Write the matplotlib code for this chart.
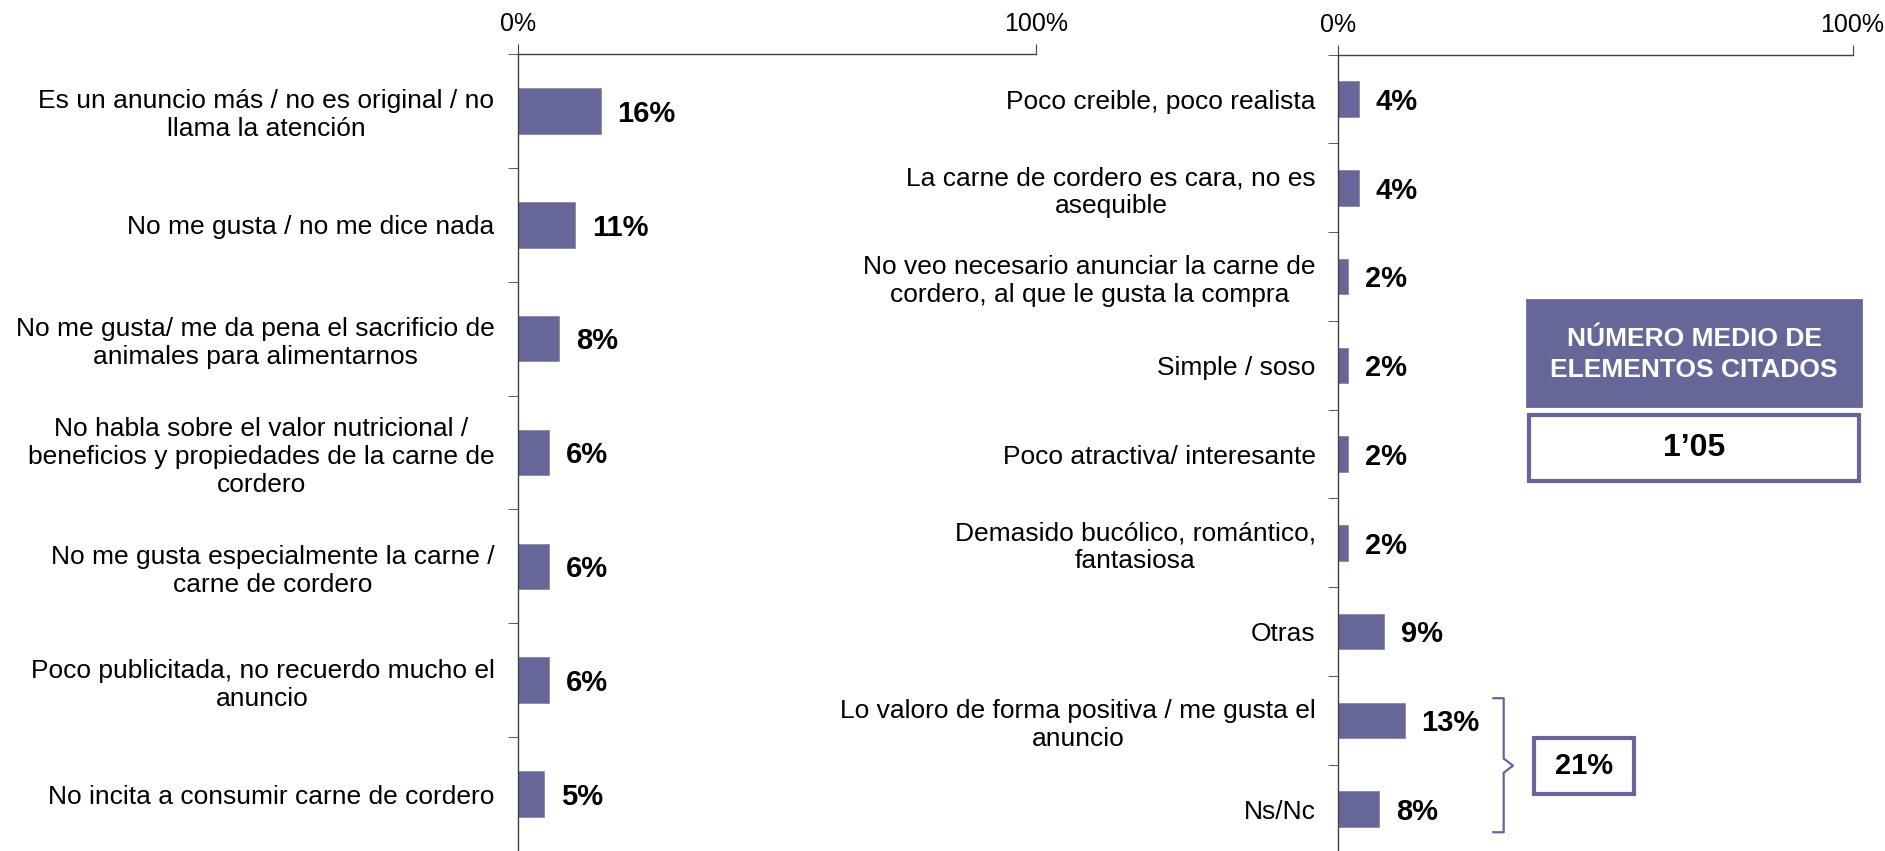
import matplotlib.pyplot as plt
from matplotlib.patches import Rectangle

plt.rcParams['font.family'] = ['Liberation Sans', 'DejaVu Sans']

left_labels = [
    "Es un anuncio más / no es original / no\nllama la atención",
    "No me gusta / no me dice nada",
    "No me gusta/ me da pena el sacrificio de\nanimales para alimentarnos",
    "No habla sobre el valor nutricional /\nbeneficios y propiedades de la carne de\ncordero",
    "No me gusta especialmente la carne /\ncarne de cordero",
    "Poco publicitada, no recuerdo mucho el\nanuncio",
    "No incita a consumir carne de cordero",
]
left_values = [16, 11, 8, 6, 6, 6, 5]

right_labels = [
    "Poco creible, poco realista",
    "La carne de cordero es cara, no es\nasequible",
    "No veo necesario anunciar la carne de\ncordero, al que le gusta la compra",
    "Simple / soso",
    "Poco atractiva/ interesante",
    "Demasido bucólico, romántico,\nfantasiosa",
    "Otras",
    "Lo valoro de forma positiva / me gusta el\nanuncio",
    "Ns/Nc",
]
right_values = [4, 4, 2, 2, 2, 2, 9, 13, 8]

group_total = "21%"
box_title = "NÚMERO MEDIO DE\nELEMENTOS CITADOS"
box_value = "1’05"

bar_color = "#666699"
spine_color = "#404040"

fig = plt.figure(figsize=(18.85, 8.51), dpi=100)
ax_l = fig.add_axes([0.2748, 0.0, 0.2748, 0.9365])
ax_r = fig.add_axes([0.7098, -0.003, 0.2730, 0.9388])


def draw_panel(ax, labels, values, pad):
    n = len(labels)
    y = list(range(n))
    ax.barh(y, values, height=0.4, color=bar_color, edgecolor="#8888aa", linewidth=0.6)
    ax.set_xlim(0, 100)
    ax.set_ylim(n - 0.5, -0.5)
    for s in ["right", "bottom"]:
        ax.spines[s].set_visible(False)
    for s in ["left", "top"]:
        ax.spines[s].set_color(spine_color)
        ax.spines[s].set_linewidth(1.0)
    ax.xaxis.tick_top()
    ax.set_xticks([0, 100])
    ax.set_xticklabels(["0%", "100%"], fontsize=18)
    ax.tick_params(axis="x", direction="out", length=7, color=spine_color, pad=6)
    ax.set_yticks(y)
    ax.set_yticklabels(labels, fontsize=19, multialignment="center")
    ax.set_yticks([i - 0.5 for i in range(n + 1)], minor=True)
    ax.tick_params(axis="y", which="major", length=0, pad=pad)
    ax.tick_params(axis="y", which="minor", length=7, direction="out", color=spine_color)
    for yi, v in zip(y, values):
        ax.annotate(f"{v}%", (v, yi), xytext=(12, -2), textcoords="offset points",
                    ha="left", va="center", fontsize=21, fontweight="bold")


draw_panel(ax_l, left_labels, left_values, pad=17)
draw_panel(ax_r, right_labels, right_values, pad=16)

# bracket grouping the last two categories
bx0, bx1, btip = 30.2, 32.2, 34.0
by0, by1, bym = 6.75, 8.26, 7.51
ax_r.plot([bx0, bx1, bx1, btip, bx1, bx1, bx0],
          [by0, by0, bym - 0.08, bym, bym + 0.08, by1, by1],
          color=bar_color, linewidth=1.6, clip_on=False)
ax_r.add_patch(Rectangle((38.0, 7.2), 19.5, 0.63, facecolor="white",
                         edgecolor=bar_color, linewidth=3, clip_on=False))
ax_r.text(47.75, 7.515, group_total, ha="center", va="center",
          fontsize=21, fontweight="bold", clip_on=False)

# summary box
fig.patches.append(Rectangle((0.8100, 0.5229), 0.1773, 0.1240, transform=fig.transFigure,
                             facecolor=bar_color, edgecolor=bar_color, linewidth=2))
fig.patches.append(Rectangle((0.8110, 0.4348), 0.1753, 0.0775, transform=fig.transFigure,
                             facecolor="white", edgecolor=bar_color, linewidth=3))
fig.text(0.8987, 0.5835, box_title, ha="center", va="center", color="white",
         fontsize=19, fontweight="bold", linespacing=1.4)
fig.text(0.8987, 0.4735, box_value, ha="center", va="center", color="black",
         fontsize=23, fontweight="bold")

fig.savefig("out.png", dpi=100)
